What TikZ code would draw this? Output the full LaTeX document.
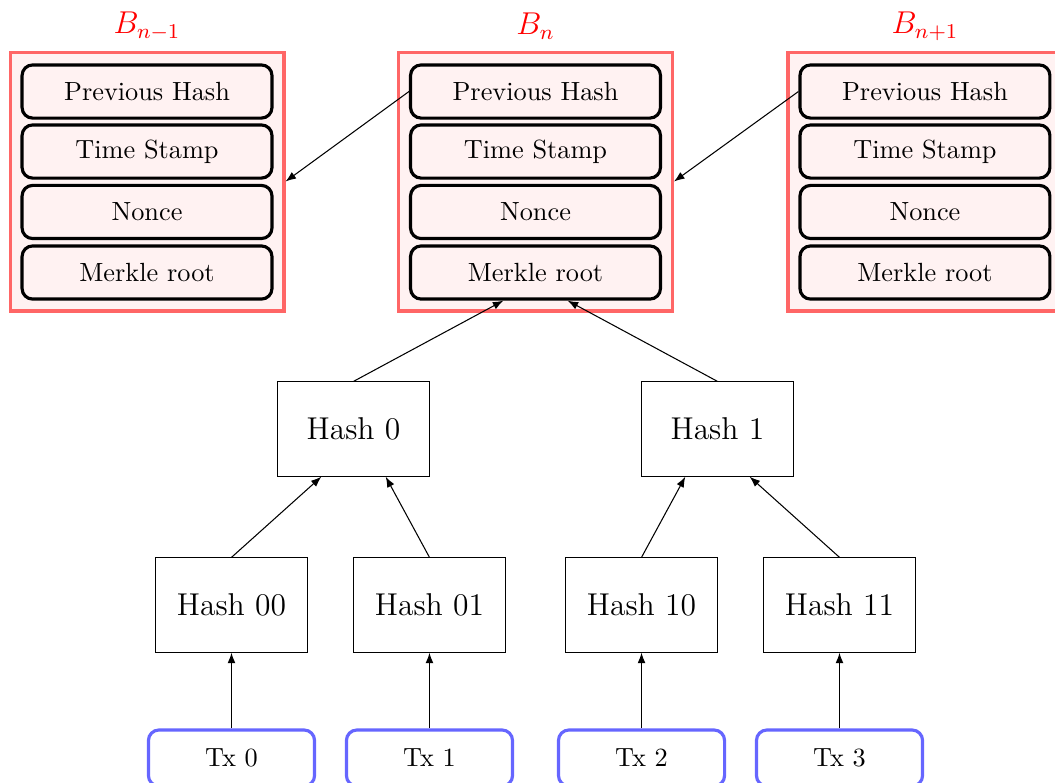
\documentclass[tikz,border=0pt]{standalone}
\usepackage{amsmath}
\usepackage{xcolor}
\usepackage{tikz}
\usetikzlibrary{arrows.meta,positioning,calc}

\begin{document}
\begin{tikzpicture}[
    block/.style={rectangle, draw=red!60, very thick, fill=red!5,
                  minimum width=3.66cm, minimum height=3.46cm},
    field/.style={rectangle, draw, very thick, rounded corners, fill=red!5,
                  minimum width=3.34cm, minimum height=0.71cm},
    hashbox/.style={rectangle, draw, minimum width=2.02cm, minimum height=1.26cm,
                    font=\large},
    txbox/.style={rectangle, draw=blue!60, very thick, rounded corners, fill=white,
                  minimum width=2.22cm, minimum height=0.75cm},
    blocklabel/.style={red, font=\large},
    arrow/.style={-{Latex[length=4pt,width=3pt]}}
]
\useasboundingbox (0,0) rectangle (14.1,-10.452);

% Blocks
\node[block] (Bm) at (1.965,-2.426) {};
\node[block] (B) at (7.157,-2.426) {};
\node[block] (Bp) at (12.362,-2.426) {};
\node[blocklabel] at (1.965,-0.347) {$B_{n-1}$};
\node[blocklabel] at (7.157,-0.347) {$B_n$};
\node[blocklabel] at (12.362,-0.347) {$B_{n+1}$};

% Header fields
\node[field] (PHm) at (1.965,-1.223) {Previous Hash};
\node[field] (TSm) at (1.965,-2.025) {Time Stamp};
\node[field] (NOm) at (1.965,-2.833) {Nonce};
\node[field] (MRm) at (1.965,-3.642) {Merkle root};

\node[field] (PH) at (7.157,-1.223) {Previous Hash};
\node[field] (TS) at (7.157,-2.025) {Time Stamp};
\node[field] (NO) at (7.157,-2.833) {Nonce};
\node[field] (MR) at (7.157,-3.642) {Merkle root};

\node[field] (PHp) at (12.362,-1.223) {Previous Hash};
\node[field] (TSp) at (12.362,-2.025) {Time Stamp};
\node[field] (NOp) at (12.362,-2.833) {Nonce};
\node[field] (MRp) at (12.362,-3.642) {Merkle root};

% Merkle tree
\node[hashbox] (H0) at (4.725,-5.734) {Hash 0};
\node[hashbox] (H1) at (9.589,-5.734) {Hash 1};
\node[hashbox] (H00) at (3.094,-8.086) {Hash 00};
\node[hashbox] (H01) at (5.740,-8.086) {Hash 01};
\node[hashbox] (H10) at (8.574,-8.086) {Hash 10};
\node[hashbox] (H11) at (11.220,-8.086) {Hash 11};

% Transactions
\node[txbox] (T0) at (3.094,-10.131) {Tx 0};
\node[txbox] (T1) at (5.740,-10.131) {Tx 1};
\node[txbox] (T2) at (8.574,-10.131) {Tx 2};
\node[txbox] (T3) at (11.220,-10.131) {Tx 3};

% Arrows
\draw[arrow] (PH.west) -- (Bm.east);
\draw[arrow] (PHp.west) -- (B.east);
\draw[arrow] (H0.north) -- ($(MR.south)+(-0.43,0)$);
\draw[arrow] (H1.north) -- ($(MR.south)+(0.43,0)$);
\draw[arrow] (H00.north) -- ($(H0.south)+(-0.43,0)$);
\draw[arrow] (H01.north) -- ($(H0.south)+(0.43,0)$);
\draw[arrow] (H10.north) -- ($(H1.south)+(-0.43,0)$);
\draw[arrow] (H11.north) -- ($(H1.south)+(0.43,0)$);
\draw[arrow] (T0) -- (H00);
\draw[arrow] (T1) -- (H01);
\draw[arrow] (T2) -- (H10);
\draw[arrow] (T3) -- (H11);

\end{tikzpicture}
\end{document}
